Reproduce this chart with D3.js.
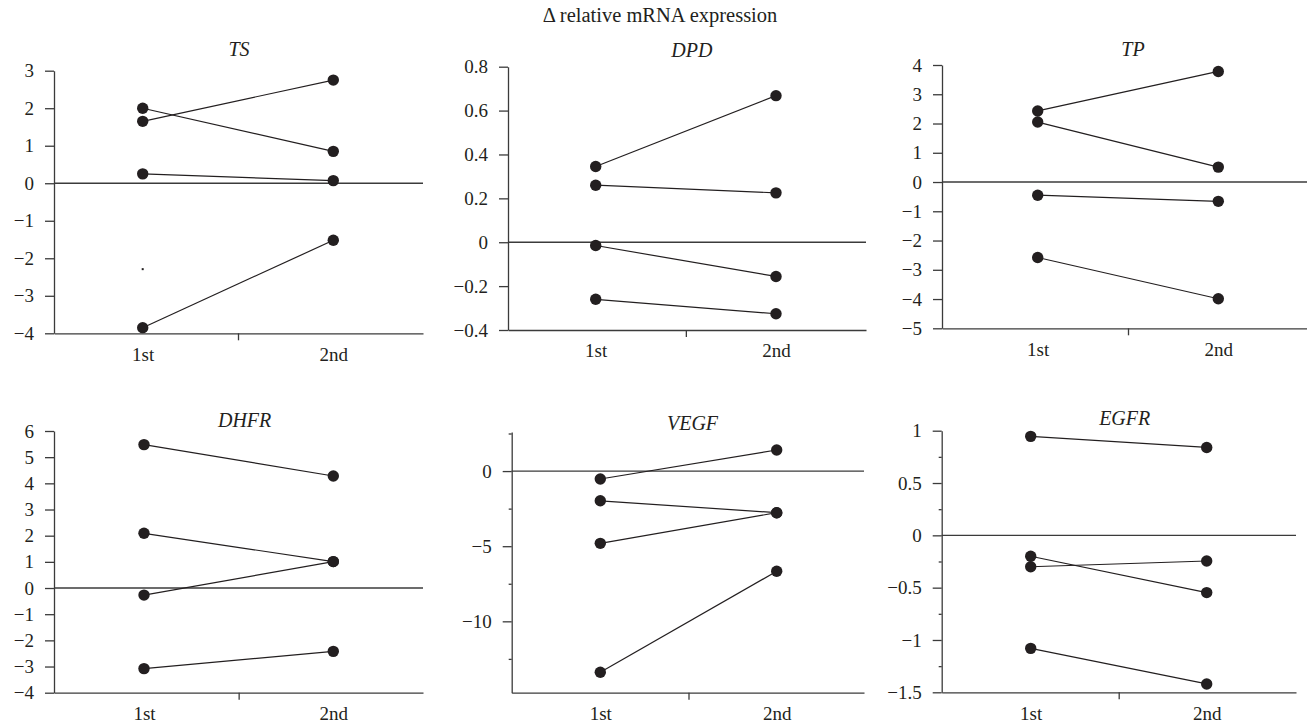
<!DOCTYPE html>
<html>
<head>
<meta charset="utf-8">
<script src="https://cdnjs.cloudflare.com/ajax/libs/d3/7.8.5/d3.min.js"></script>
<style>
    body { margin: 0; background: #fff; }
    svg { display: block; font-family: "Liberation Serif", "DejaVu Serif", serif; }
    .axis path, .axis line { stroke: #3b3b3b; stroke-width: 1.3; }
    .axis text { fill: #231f20; font-size: 19px; font-family: "Liberation Serif", serif; }
</style>
</head>
<body>
<script>
// data: each pair is [1st, 2nd] for one patient
var genes = ["TS", "DPD", "TP", "DHFR", "VEGF", "EGFR"];
var sessions = ["1st", "2nd"];

var tsPairs   = [[2.0, 0.85], [1.65, 2.75], [0.25, 0.07], [-3.85, -1.52]];
var dpdPairs  = [[0.345, 0.668], [0.26, 0.225], [-0.015, -0.156], [-0.26, -0.326]];
var tpPairs   = [[2.43, 3.78], [2.05, 0.51], [-0.45, -0.66], [-2.58, -3.99]];
var dhfrPairs = [[5.48, 4.28], [2.09, 1.01], [-0.27, 1.01], [-3.08, -2.42]];
var vegfPairs = [[-0.53, 1.40], [-1.98, -2.77], [-4.81, -2.77], [-13.39, -6.67]];
var egfrPairs = [[0.946, 0.84], [-0.2, -0.547], [-0.30, -0.245], [-1.08, -1.42]];

var yDomains = [[-4, 3], [-0.4, 0.8], [-5, 4], [-4, 6], [-14.75, 2.6], [-1.5, 1]];
var majorTicks = [
    [-4, -3, -2, -1, 0, 1, 2, 3],
    [-0.4, -0.2, 0, 0.2, 0.4, 0.6, 0.8],
    [-5, -4, -3, -2, -1, 0, 1, 2, 3, 4],
    [-4, -3, -2, -1, 0, 1, 2, 3, 4, 5, 6],
    [-10, -5, 0],
    [-1.5, -1, -0.5, 0, 0.5, 1]
];
var minorTicks = [[], [], [], [], [-12.5, -7.5, -2.5, 2.5],
    [-1.25, -0.75, -0.25, 0.25, 0.75]];

// small speck in the TS panel of the original figure
var tsSpeck = [[1, -2.29]];

var allPairs = [tsPairs, dpdPairs, tpPairs, dhfrPairs, vegfPairs, egfrPairs];

// panel frames: axis extents and 1st/2nd positions
var frames = [
    {left: 54, right: 423, top: 70.7, bottom: 333.3, x1: 142.7, x2: 333.3, titleY: 56, dx: 1},
    {left: 508, right: 866, top: 66.7, bottom: 330, x1: 595.7, x2: 776, titleY: 56.5, dx: 6},
    {left: 942, right: 1310, top: 65, bottom: 328.3, x1: 1037.7, x2: 1218.3, titleY: 56, dx: 5},
    {left: 54, right: 423, top: 431, bottom: 692.7, x1: 144, x2: 333.3, titleY: 426.5, dx: 6},
    {left: 511.7, right: 864, top: 432, bottom: 692.7, x1: 600.3, x2: 776.7, titleY: 429.5, dx: 4},
    {left: 941.7, right: 1296, top: 430.7, bottom: 692.3, x1: 1030.7, x2: 1206.7, titleY: 425, dx: 6}
];

var width = 1307, height = 727;
var ink = "#231f20";

var svg = d3.select("body").append("svg")
    .attr("width", width)
    .attr("height", height);

svg.append("text")
    .attr("x", 660)
    .attr("y", 21.5)
    .attr("text-anchor", "middle")
    .style("font-size", "20.5px")
    .style("fill", ink)
    .text("\u0394 relative mRNA expression");

var fmt = d3.format(".1~f");

genes.forEach(function (gene, i) {
    var f = frames[i];
    var pairs = allPairs[i];

    var x = d3.scaleLinear().domain([1, 2]).range([f.x1, f.x2]);
    x.domain([x.invert(f.left), x.invert(f.right)]).range([f.left, f.right]);

    var y = d3.scaleLinear().domain(yDomains[i]).range([f.bottom, f.top]);

    var g = svg.append("g").attr("class", "panel");

    // y axis
    g.append("g")
        .attr("class", "axis")
        .attr("transform", "translate(" + f.left + ",0)")
        .call(d3.axisLeft(y).tickValues(majorTicks[i]).tickFormat(fmt)
            .tickSize(9).tickPadding(11).tickSizeOuter(0));

    if (minorTicks[i].length) {
        g.append("g")
            .attr("class", "axis")
            .attr("transform", "translate(" + f.left + ",0)")
            .call(d3.axisLeft(y).tickValues(minorTicks[i]).tickFormat("")
                .tickSize(3).tickSizeOuter(0))
            .call(function (a) { a.select(".domain").remove(); });
    }

    // x axis with a single middle tick
    g.append("g")
        .attr("class", "axis")
        .attr("transform", "translate(0," + f.bottom + ")")
        .call(d3.axisBottom(x).tickValues([1.5]).tickFormat("")
            .tickSize(7).tickSizeOuter(0));

    g.append("g")
        .attr("class", "axis")
        .attr("transform", "translate(0," + f.bottom + ")")
        .call(d3.axisBottom(x).tickValues([1, 2])
            .tickFormat(function (d, k) { return sessions[k]; })
            .tickSize(0).tickPadding(14))
        .call(function (a) { a.select(".domain").remove(); });

    // zero reference line
    g.append("line")
        .attr("x1", f.left).attr("x2", f.right)
        .attr("y1", y(0)).attr("y2", y(0))
        .attr("stroke", "#3b3b3b")
        .attr("stroke-width", 1.3);

    // gene title
    g.append("text")
        .attr("x", x(1.5) + f.dx)
        .attr("y", f.titleY)
        .attr("text-anchor", "middle")
        .style("font-size", "20px")
        .style("font-style", "italic")
        .style("fill", ink)
        .text(gene);

    g.selectAll("line.pair")
        .data(pairs)
        .enter().append("line")
        .attr("class", "pair")
        .attr("x1", x(1)).attr("x2", x(2))
        .attr("y1", function (d) { return y(d[0]); })
        .attr("y2", function (d) { return y(d[1]); })
        .attr("stroke", ink)
        .attr("stroke-width", 1.2);

    var pts = [];
    pairs.forEach(function (d) {
        pts.push([1, d[0]]);
        pts.push([2, d[1]]);
    });

    g.selectAll("circle")
        .data(pts)
        .enter().append("circle")
        .attr("cx", function (d) { return x(d[0]); })
        .attr("cy", function (d) { return y(d[1]); })
        .attr("r", 5.7)
        .attr("fill", ink);

    if (gene === "TS") {
        g.selectAll("rect.speck")
            .data(tsSpeck)
            .enter().append("rect")
            .attr("class", "speck")
            .attr("x", function (d) { return x(d[0]) - 1; })
            .attr("y", function (d) { return y(d[1]) - 1; })
            .attr("width", 2).attr("height", 2)
            .attr("fill", ink);
    }
});
</script>
</body>
</html>
